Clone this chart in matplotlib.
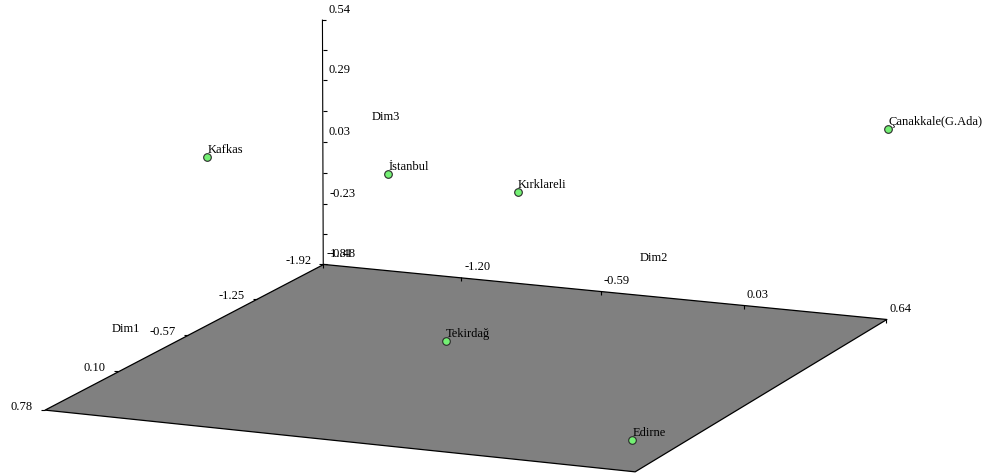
import numpy as np
import matplotlib
matplotlib.use("Agg")
import matplotlib.pyplot as plt
from mpl_toolkits.mplot3d import proj3d
from mpl_toolkits.mplot3d.art3d import Poly3DCollection

# MDS configuration: three dimensions per region
names = ["Kafkas", "İstanbul", "Kırklareli", "Çanakkale(G.Ada)", "Tekirdağ", "Edirne"]
dim1 = [-0.79, 0.61, 0.24, -1.92, -0.88, 0.78]
dim2 = [-1.82, -0.44, -0.06, 0.64, -0.83, 0.63]
dim3 = [0.20, 0.54, 0.43, 0.30, -0.48, -0.36]

dim1_ticks = [-1.92, -1.25, -0.57, 0.10, 0.78]
dim2_ticks = [-1.81, -1.20, -0.59, 0.03, 0.64]
dim3_ticks = [-0.48, -0.23, 0.03, 0.29, 0.54]

FONT = "Liberation Serif"
FS = 9

W, H = 988, 474
fig = plt.figure(figsize=(W / 100, H / 100), dpi=100)
fig.patch.set_facecolor("white")

side = 988
cx, cy = 0.465, 0.471
ax = fig.add_axes([cx - side / 2 / W, cy - side / 2 / H, side / W, side / H],
                  projection="3d", computed_zorder=False)
ax.set_proj_type("persp", focal_length=2.0)
ax.view_init(elev=13.1, azim=23)
x0, x1 = dim1_ticks[0], dim1_ticks[-1]
y0, y1 = dim2_ticks[0], dim2_ticks[-1]
z0, z1 = dim3_ticks[0], dim3_ticks[-1]
ax.set_xlim(x0, x1)
ax.set_ylim(y0, y1)
ax.set_zlim(z0, z1)
ax.set_box_aspect((679, 626, 259), zoom=0.945)
ax.set_axis_off()
M = ax.get_proj()


def label(x, y, z, s, dx, dy, **kw):
    """Text anchored at a projected 3D point, offset in pixels."""
    px, py, _ = proj3d.proj_transform(x, y, z, M)
    ax.annotate(s, (px, py), xycoords="data", xytext=(dx, dy),
                textcoords="offset pixels", family=FONT, fontsize=FS,
                zorder=4, annotation_clip=False, **kw)


# floor of the box
floor = Poly3DCollection([[(x0, y0, z0), (x1, y0, z0), (x1, y1, z0), (x0, y1, z0)]],
                         facecolor="#808080", edgecolor="black", linewidth=0.9, zorder=1)
ax.add_collection3d(floor)

# vertical Dim3 axis at the back corner
ax.plot([x0, x0], [y0, y0], [z0, z1], color="black", lw=0.8, zorder=2)
zminor = [(a + b) / 2 for a, b in zip(dim3_ticks[:-1], dim3_ticks[1:])]
ax.plot([x0] * 9, [y0] * 9, sorted(dim3_ticks + zminor), ls="none", marker=1,
        ms=3, mew=0.8, color="black", zorder=2)
for t in dim3_ticks:
    label(x0, y0, t, f"{t:.2f}", 6, 10, ha="left", va="center")

# Dim1 ticks along the left floor edge
ax.plot(dim1_ticks, [y0] * 5, [z0] * 5, ls="none", marker=0, ms=3, mew=0.8,
        color="black", zorder=2)
for t in dim1_ticks:
    label(t, y0, z0, f"{t:.2f}", -12, 3, ha="right", va="center")

# Dim2 ticks along the back floor edge
ax.plot([x0] * 5, dim2_ticks, [z0] * 5, ls="none", marker=3, ms=3, mew=0.8,
        color="black", zorder=2)
for t in dim2_ticks:
    label(x0, t, z0, f"{t:.2f}", 3, 4, ha="left", va="bottom")

# axis titles
label((x0 + x1) / 2, y0, z0, "Dim1", -62, 6, ha="center", va="center")
label(x0, (y0 + y1) / 2, z0, "Dim2", 52, 33, ha="center", va="center")
label(x0, y0, (z0 + z1) / 2, "Dim3", 63, 25, ha="center", va="center")

# regions
ax.plot(dim1, dim2, dim3, ls="none", marker="o", ms=5.5, mfc="#74f074",
        mec="#2b2b2b", mew=0.8, zorder=3)
for n, a, b, c in zip(names, dim1, dim2, dim3):
    label(a, b, c, n, 0, 4, ha="left", va="baseline")

fig.savefig("out.png", dpi=100)
